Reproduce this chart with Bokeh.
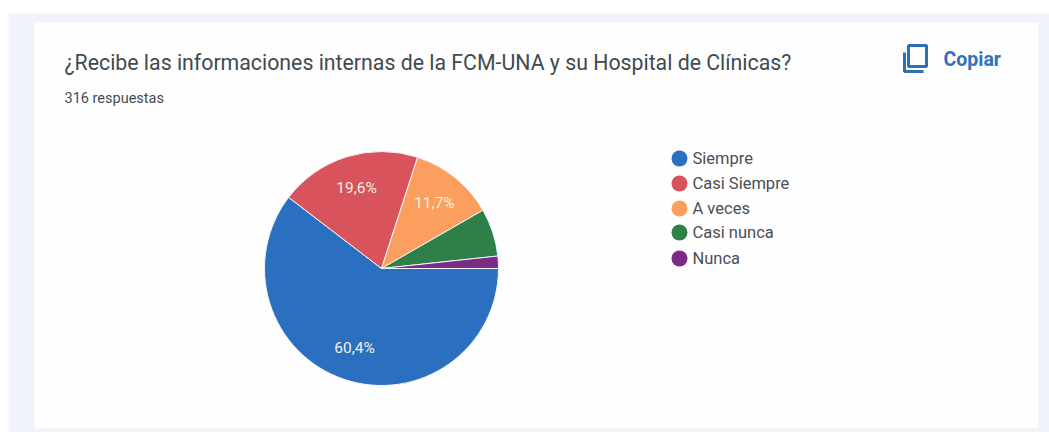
from math import pi, cos, sin
from bokeh.plotting import figure
from bokeh.models import Range1d, ColumnDataSource
from bokeh.core.properties import value
from bokeh.embed import file_html
from bokeh.resources import INLINE

title_text = "¿Recibe las informaciones internas de la FCM-UNA y su Hospital de Clínicas?"
subtitle_text = "316 respuestas"
copy_text = "Copiar"
categories = ["Siempre", "Casi Siempre", "A veces", "Casi nunca", "Nunca"]
percentages = [60.4, 19.6, 11.7, 6.6, 1.7]
slice_labels = ["60,4%", "19,6%", "11,7%", "", ""]
colors = ["#2b70c0", "#d9535c", "#fb9f5e", "#2f7f49", "#7a2c85"]

W, H = 1049, 432
FONT = value("Roboto")


def Y(page_y):
    return H - page_y


def X(page_x):
    return page_x


p = figure(width=W, height=H, output_backend="svg", toolbar_location=None,
           x_range=Range1d(0, W), y_range=Range1d(0, H),
           min_border=0, outline_line_color=None, background_fill_color="#ffffff",
           border_fill_color="#ffffff")
p.axis.visible = False
p.grid.visible = False

# page background band and card
p.quad(left=[X(8)], right=[X(1049)], bottom=[Y(432)], top=[Y(13)],
       fill_color="#f0f3fb", line_color=None)
p.quad(left=[X(34)], right=[X(1038)], bottom=[Y(428)], top=[Y(22)],
       fill_color="#fefefe", line_color=None)

# pie, clockwise from east
cx, cy, radius = X(381), Y(268), 117
starts, ends, lx, ly = [], [], [], []
angle = 0.0
for pct in percentages:
    sweep = pct / 100 * 2 * pi
    starts.append(angle - sweep)
    ends.append(angle)
    mid = angle - sweep / 2
    lx.append(cx + 84 * cos(mid))
    ly.append(cy + 84 * sin(mid))
    angle -= sweep

src = ColumnDataSource(dict(start=starts, end=ends, color=colors,
                            lx=lx, ly=ly, label=slice_labels))
p.wedge(x=cx, y=cy, radius=radius, start_angle="start", end_angle="end",
        fill_color="color", line_color="#f4f6fb", line_width=1, source=src)
p.text(x="lx", y="ly", text="label", source=src, text_color="#f3f0e6",
       text_font=FONT, text_font_size="15.5px", text_align="center",
       text_baseline="middle")

# title, subtitle, copy button
p.text(x=[X(64)], y=[Y(62)], text=[title_text], text_font=FONT, text_font_size="21.3px",
       text_color="#3f4a52", text_align="left", text_baseline="middle")
p.text(x=[X(64)], y=[Y(98)], text=[subtitle_text], text_font=FONT, text_font_size="14.5px",
       text_color="#454c52", text_align="left", text_baseline="middle")
p.text(x=[X(943)], y=[Y(59)], text=[copy_text], text_font=FONT, text_font_size="19.5px",
       text_color="#2f72bd", text_font_style="bold", text_align="left", text_baseline="middle")

# copy icon
p.quad(left=[X(908)], right=[X(926)], bottom=[Y(66)], top=[Y(45)],
       fill_color=None, line_color="#2f6fb5", line_width=3)
p.line(x=[X(904), X(904), X(923)], y=[Y(52), Y(71), Y(71)],
       line_color="#2f6fb5", line_width=3)

# legend
legend_y = [158, 183, 208, 232, 258]
p.scatter(x=[X(679)] * 5, y=[Y(v) for v in legend_y], size=16, marker="circle",
          fill_color=colors, line_color=None)
p.text(x=[X(692)] * 5, y=[Y(v) for v in legend_y], text=categories, text_font=FONT,
       text_font_size="16.5px", text_color="#4a4f55", text_align="left", text_baseline="middle")

open("out.html", "w").write(file_html(p, INLINE))
